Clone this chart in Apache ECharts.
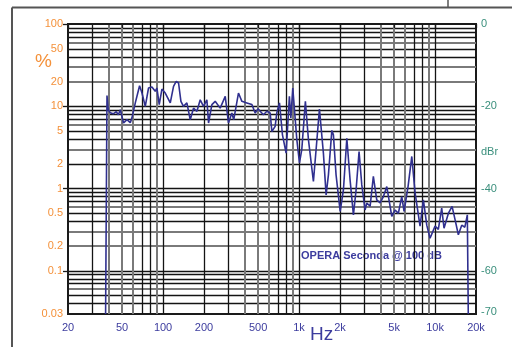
<!DOCTYPE html>
<html>
<head>
<meta charset="utf-8">
<script src="https://cdn.jsdelivr.net/npm/echarts@6/dist/echarts.min.js"></script>
<style>
html,body{margin:0;padding:0;background:#fff;}
#chart{width:512px;height:347px;}
</style>
</head>
<body>
<div id="chart"></div>
<script>
//失真曲线数据（Hz / %）
var freqHz = [37.8, 38.7, 39.5, 40.9, 43.0, 45.3, 46.9, 48.5, 51.2, 54.3, 57.4, 59.0, 62.5, 67.2, 69.9, 74.0,
	78.2, 82.8, 87.6, 90.1, 93.7, 98.1, 103.8, 113, 119.4, 124.9, 130, 135.3, 141.3, 149.7, 158.3, 167.5,
	177.4, 187.6, 198.3, 210, 216, 228.6, 241.7, 263, 286.5, 302.7, 320.6, 331, 358.5, 379.8, 413, 450,
	475.5, 500, 517.6, 547, 579.7, 613, 631, 667, 686.5, 718, 755, 803, 849, 870, 899, 963, 1007, 1047,
	1113, 1172, 1275, 1334, 1412, 1510, 1581, 1644, 1742, 1789, 1871, 2006, 2120, 2245, 2372, 2510, 2627,
	2762, 2892, 3058, 3148, 3330, 3518, 3725, 3943, 4170, 4416, 4805, 5083, 5370, 5690, 5917, 6330, 6744,
	7130, 7757, 8205, 8690, 9185, 10000, 10570, 11190, 11640, 12520, 13340, 14030, 14830, 15710, 16560,
	17270, 17550];
var thdPct = [0.03, 13.5, 9.1, 8.36, 8.1, 8.6, 7.9, 9.1, 6.27, 6.88, 6.32, 7.2, 11.0, 17.8, 14.6, 10.0,
	16.7, 17.2, 15.2, 16.7, 10.5, 16.2, 14.5, 11.0, 17.5, 20.1, 19.2, 11.5, 10.0, 11.0, 6.88, 9.5,
	8.7, 12.0, 10.0, 12.0, 6.27, 10.5, 11.5, 9.5, 13.2, 6.27, 8.3, 6.88, 14.5, 11.5, 11.0, 10.5,
	8.3, 9.35, 8.7, 7.9, 8.7, 8.3, 4.95, 5.7, 8.36, 11.0, 4.5, 2.7, 13.2, 7.2, 16.7, 3.93, 2.05, 2.97,
	11.5, 3.93, 1.22, 2.97, 9.27, 2.7, 0.84, 1.47, 5.1, 4.5, 1.47, 0.53, 0.97, 4.1, 1.28, 0.48, 0.97,
	2.83, 1.11, 0.55, 0.67, 0.61, 1.41, 0.73, 0.67, 0.80, 1.06, 0.46, 0.55, 0.50, 0.80, 0.53, 1.06, 2.46,
	0.89, 0.35, 0.73, 0.36, 0.25, 0.35, 0.32, 0.58, 0.33, 0.50, 0.61, 0.42, 0.275, 0.36, 0.34,
	0.48, 0.03];

//刻度与网格
var xLabelHz = [20, 50, 100, 200, 500, 1000, 2000, 5000, 10000, 20000];
var xDarkHz = [30, 70, 80, 100, 200, 300, 700, 800, 1000, 2000, 3000, 7000, 8000, 10000];
var xGrayHz = [40, 50, 60, 90, 400, 500, 600, 900, 4000, 5000, 6000, 9000];
var yLabelPct = [0.03, 0.1, 0.2, 0.5, 1, 2, 5, 10, 20, 50, 100];
var yMajorPct = [0.1, 1, 10, 100];
var yDarkPct = [0.04, 0.05, 0.07, 0.08, 0.09, 0.1, 0.4, 0.5, 0.7, 0.8, 0.9, 1, 2, 4, 5, 7, 8, 9, 10, 40, 50, 70, 80, 90];
var yGrayPct = [0.06, 0.2, 0.3, 0.6, 3, 6, 20, 30, 60];
var dbrLabels = [0, -20, -40, -60, -70];

var xMin = 20, xMax = 20000, yMin = 0.03, yMax = 100;
var orange = '#f4913a', blue = '#3c3c9e', teal = '#3a8f7c';

function lg(arr){
	return arr.map(function(v){ return Math.log10(v); });
}
function fmtLog(v){
	var n = parseFloat(Math.pow(10, v).toPrecision(2));
	if(n >= 1000){ return (n / 1000) + 'k'; }
	return String(n);
}
//对数空间里的辅助坐标轴（只画网格线）
function gridAxis(min, max, values, color, width, pos){
	return {
		type: 'value', position: pos, min: min, max: max,
		axisLine: {show: false},
		axisLabel: {show: false},
		axisTick: {show: false, customValues: lg(values)},
		splitLine: {show: true, lineStyle: {color: color, width: width}}
	};
}

var lxMin = Math.log10(xMin), lxMax = Math.log10(xMax);
var lyMin = Math.log10(yMin), lyMax = Math.log10(yMax);

var chart = echarts.init(document.getElementById('chart'));
var option = {
	animation: false,
	grid: {left: 68, top: 24, right: 36, bottom: 33, show: true, borderColor: '#1a1a1a', borderWidth: 2, backgroundColor: '#fff'},
	xAxis: [
		{type: 'log', min: xMin, max: xMax, show: false},
		gridAxis(lxMin, lxMax, xGrayHz, '#7a7a7a', 2, 'bottom'),
		gridAxis(lxMin, lxMax, xDarkHz, '#141414', 1.3, 'bottom'),
		{
			type: 'value', position: 'bottom', min: lxMin, max: lxMax,
			axisLine: {show: true, lineStyle: {color: '#1a1a1a', width: 2}},
			axisTick: {show: true, length: 4, customValues: lg(xLabelHz), lineStyle: {color: '#1a1a1a', width: 1.3}},
			axisLabel: {customValues: lg(xLabelHz), formatter: fmtLog, color: blue, fontSize: 11, margin: 8, fontFamily: 'Liberation Sans'},
			splitLine: {show: false}
		}
	],
	yAxis: [
		{type: 'log', min: yMin, max: yMax, show: false},
		gridAxis(lyMin, lyMax, yGrayPct, '#7a7a7a', 2, 'left'),
		gridAxis(lyMin, lyMax, yDarkPct, '#141414', 1.3, 'left'),
		{
			type: 'value', position: 'left', min: lyMin, max: lyMax,
			axisLine: {show: true, lineStyle: {color: '#1a1a1a', width: 2}},
			axisTick: {show: true, length: 5, customValues: lg(yMajorPct), lineStyle: {color: '#1a1a1a', width: 1.3}},
			axisLabel: {customValues: lg(yLabelPct), formatter: fmtLog, color: orange, fontSize: 11, margin: 5, fontFamily: 'Liberation Sans'},
			splitLine: {show: false}
		},
		{
			type: 'value', position: 'right', min: -70.46, max: 0,
			axisLine: {show: false},
			axisTick: {show: false},
			axisLabel: {customValues: dbrLabels, color: teal, fontSize: 11, margin: 5, fontFamily: 'Liberation Sans'},
			splitLine: {show: false}
		}
	],
	graphic: [
		{type: 'line', silent: true, shape: {x1: 12, y1: 7.5, x2: 512, y2: 7.5}, style: {stroke: '#555', lineWidth: 2}},
		{type: 'line', silent: true, shape: {x1: 12, y1: 7.5, x2: 12, y2: 347}, style: {stroke: '#555', lineWidth: 2}},
		{type: 'line', silent: true, shape: {x1: 448, y1: 0, x2: 448, y2: 7.5}, style: {stroke: '#555', lineWidth: 1.5}},
		{type: 'text', left: 35, top: 52, silent: true, style: {text: '%', fill: orange, font: '19px "Liberation Sans"'}},
		{type: 'text', left: 310, top: 325, silent: true, style: {text: 'Hz', fill: blue, font: '19px "Liberation Sans"'}},
		{type: 'text', left: 481, top: 146, silent: true, style: {text: 'dBr', fill: teal, font: '11px "Liberation Sans"'}},
		{type: 'text', left: 301, top: 250, silent: true, style: {text: 'OPERA Seconda @ 100 dB', fill: blue, font: 'bold 11px "Liberation Sans"'}}
	],
	series: [{
		type: 'line',
		xAxisIndex: 0,
		yAxisIndex: 0,
		showSymbol: false,
		silent: true,
		z: 5,
		lineStyle: {color: '#30308f', width: 1.6},
		data: freqHz.map(function(f, i){ return [f, thdPct[i]]; })
	}]
};
chart.setOption(option);
</script>
</body>
</html>
